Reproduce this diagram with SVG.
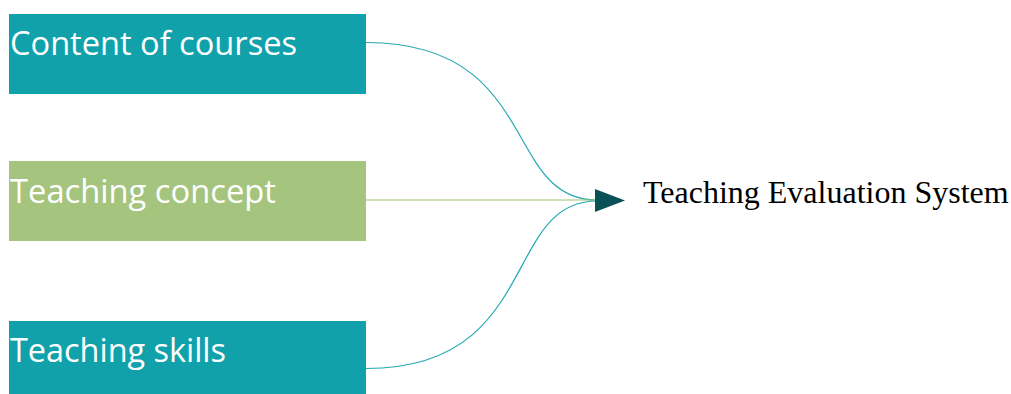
<svg xmlns="http://www.w3.org/2000/svg" width="1011" height="394" viewBox="0 0 1011 394">
<style>
.lbl{font-family:"Open Sans","Noto Sans","DejaVu Sans",sans-serif;font-size:33px;fill:#ffffff}
.teal{fill:#10A1AB}
.green{fill:#A5C57E}
.ttl{font-family:"Liberation Serif","Times New Roman",serif;font-size:32px;fill:#000000}
.c{fill:none;stroke-width:1.2}
</style>
<rect width="1011" height="394" fill="#ffffff"/>
<g id="connectors">
<path class="c" stroke="#25A8B3" d="M366,42.5 C541,42.5 502,200 597,200"/>
<path class="c" stroke="#9CC270" d="M366,200 L597,200"/>
<path class="c" stroke="#25A8B3" d="M366,368.5 C541,368.5 502,201 597,201"/>
<polygon fill="#0A5057" points="595,189 625,200.5 595,212"/>
</g>
<g id="node-content">
<rect class="teal" x="9" y="14" width="357" height="80"/>
<text class="lbl" x="10" y="55" textLength="287" lengthAdjust="spacingAndGlyphs">Content of courses</text>
</g>
<g id="node-concept">
<rect class="green" x="9" y="161" width="357" height="80"/>
<text class="lbl" x="10" y="202.5" textLength="266" lengthAdjust="spacingAndGlyphs">Teaching concept</text>
</g>
<g id="node-skills">
<rect class="teal" x="9" y="321" width="357" height="73"/>
<text class="lbl" x="10" y="362" textLength="216" lengthAdjust="spacingAndGlyphs">Teaching skills</text>
</g>
<g id="node-system">
<text class="ttl" x="643" y="203">Teaching Evaluation System</text>
</g>
</svg>
